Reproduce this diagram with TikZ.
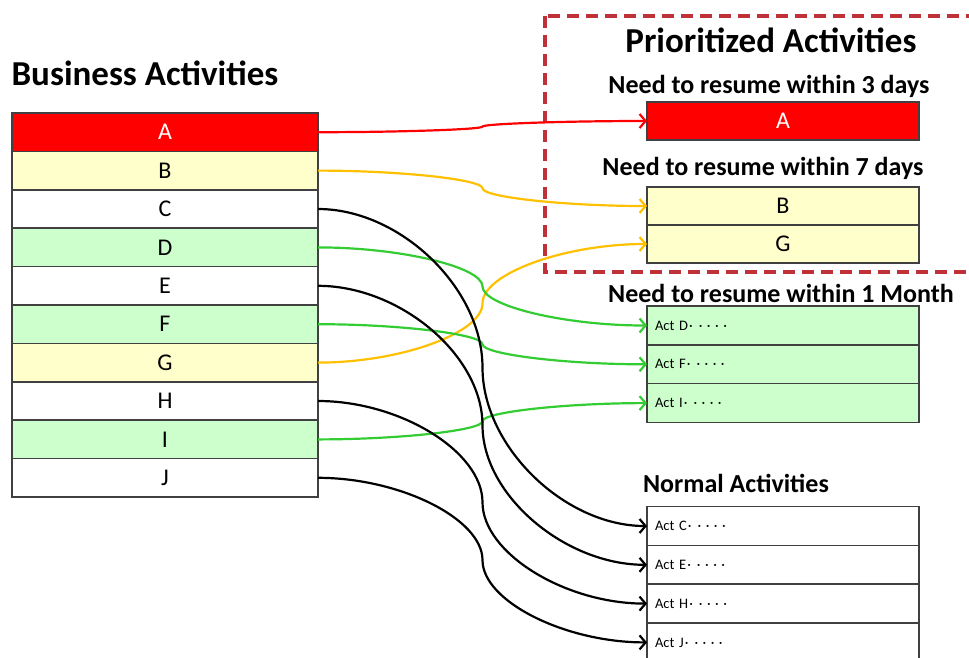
\documentclass[tikz,border=0pt]{standalone}
\usepackage{fontspec}
\setmainfont{Carlito}
\usetikzlibrary{positioning,calc,arrows.meta}

\definecolor{actred}{RGB}{255,0,0}
\definecolor{actyellow}{RGB}{255,255,204}
\definecolor{actgreen}{RGB}{204,255,204}
\definecolor{lineyellow}{RGB}{255,192,0}
\definecolor{linegreen}{RGB}{51,204,51}
\definecolor{framered}{RGB}{192,48,56}
\definecolor{boxborder}{RGB}{64,64,64}

\newcommand{\actdots}{\kern1pt·\kern6pt·\kern4.5pt·\kern4.5pt·\kern4.5pt·}

\begin{document}
\begin{tikzpicture}[x=1pt, y=-1pt,
  actbox/.style={draw=boxborder, line width=1.5pt, minimum width=306pt, minimum height=38.4pt,
    inner sep=0pt, outer sep=0pt, font=\fontsize{24}{24}\selectfont},
  prbox/.style={draw=boxborder, line width=1.5pt, minimum width=272pt, minimum height=38pt,
    inner sep=0pt, outer sep=0pt, font=\fontsize{24}{24}\selectfont},
  actitem/.style={draw=boxborder, line width=1.5pt, text width=256pt, inner xsep=8pt, inner ysep=0pt,
    minimum height=38.8pt, outer sep=0pt, align=left, font=\fontsize{14.5}{14.5}\selectfont},
  heading/.style={anchor=base, font=\bfseries\fontsize{35}{35}\selectfont},
  subheading/.style={anchor=base, font=\bfseries\fontsize{26}{26}\selectfont},
  link/.style={line width=2.2pt, -{Straight Barb[length=6pt,width=14pt]}},
  dashbox/.style={draw=framered, line width=3.5pt, dash pattern=on 12pt off 7pt}]
\useasboundingbox (0,0) rectangle (969,657);

% priority frame
\draw[dashbox] (545,16) rectangle (990,272);

% business activities
\node[heading] (title) at (145,85) {Business Activities};
\node[actbox, fill=actred, text=white] (A) at (165,132.2) {A};
\node[actbox, fill=actyellow, below=0pt of A] (B) {B};
\node[actbox, fill=white, below=0pt of B] (C) {C};
\node[actbox, fill=actgreen, below=0pt of C] (D) {D};
\node[actbox, fill=white, below=0pt of D] (E) {E};
\node[actbox, fill=actgreen, below=0pt of E] (F) {F};
\node[actbox, fill=actyellow, below=0pt of F] (G) {G};
\node[actbox, fill=white, below=0pt of G] (H) {H};
\node[actbox, fill=actgreen, below=0pt of H] (I) {I};
\node[actbox, fill=white, below=0pt of I] (J) {J};

% prioritized activities
\node[heading] (prtitle) at (771,52) {Prioritized Activities};
\node[subheading] (within3) at (769,93) {Need to resume within 3 days};
\node[prbox, fill=actred, text=white] (pA) at (783,121) {A};
\node[subheading] (within7) at (763,175) {Need to resume within 7 days};
\node[prbox, fill=actyellow] (pB) at (783,206) {B};
\node[prbox, fill=actyellow, below=0pt of pB] (pG) {G};

\node[subheading] (withinM) at (781,302) {Need to resume within 1 Month};
\node[actitem, fill=actgreen] (mD) at (783,325.5) {Act D\actdots};
\node[actitem, fill=actgreen, below=0pt of mD] (mF) {Act F\actdots};
\node[actitem, fill=actgreen, below=0pt of mF] (mI) {Act I\actdots};

% normal activities
\node[subheading] (normal) at (736,492) {Normal Activities};
\node[actitem, fill=white] (nC) at (783,526) {Act C\actdots};
\node[actitem, fill=white, below=0pt of nC] (nE) {Act E\actdots};
\node[actitem, fill=white, below=0pt of nE] (nH) {Act H\actdots};
\node[actitem, fill=white, below=0pt of nH] (nJ) {Act J\actdots};

% links
\foreach \src/\dst/\col in {A/pA/actred, B/pB/lineyellow, G/pG/lineyellow,
    D/mD/linegreen, F/mF/linegreen, I/mI/linegreen,
    C/nC/black, E/nE/black, H/nH/black, J/nJ/black}
  \draw[link, draw=\col] let \p1=(\src.east), \p2=(\dst.west) in
    (\p1) .. controls ({0.75*\x1+0.25*\x2},\y1) and ({0.5*\x1+0.5*\x2},{0.75*\y1+0.25*\y2})
    .. ({0.5*\x1+0.5*\x2},{0.5*\y1+0.5*\y2})
    .. controls ({0.5*\x1+0.5*\x2},{0.25*\y1+0.75*\y2}) and ({0.25*\x1+0.75*\x2},\y2) .. (\p2);
\end{tikzpicture}
\end{document}
